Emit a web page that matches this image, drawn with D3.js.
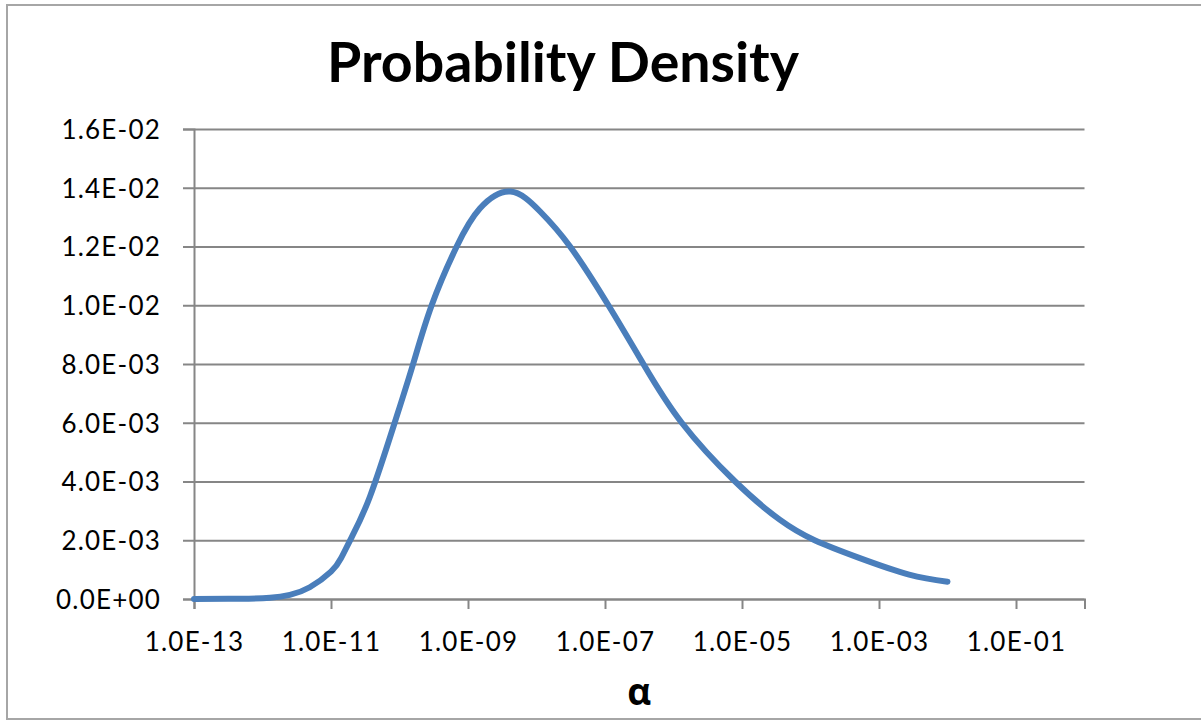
<!DOCTYPE html>
<html>
<head>
<meta charset="utf-8">
<script src="https://cdn.jsdelivr.net/npm/d3@7"></script>
<style>
  body { margin: 0; background: #fff; }
  svg text { font-family: Lato, "Open Sans", sans-serif; fill: #000; }
</style>
</head>
<body>
<svg></svg>
<script>
// alpha values (x) and probability density (y)
var alpha = [1e-13, 3.16e-13, 6.3e-13, 1.29e-12, 2.51e-12, 4.9e-12, 1e-11, 1.41e-11,
             2.0e-11, 3.72e-11, 8.5e-11, 1.58e-10, 2.95e-10, 6.84e-10, 1.5e-9, 4.17e-9,
             1.12e-8, 3.09e-8, 1.12e-7, 3.63e-7, 1.32e-6, 7.94e-6, 3.55e-5, 1.15e-4,
             5.13e-4, 2.75e-3, 1e-2];
var density = [0, 0.000005, 0.00001, 0.00004, 0.00014, 0.0004, 0.00093, 0.0014,
               0.0021, 0.0035, 0.006, 0.008, 0.010, 0.012, 0.0133, 0.01387,
               0.0132, 0.012, 0.010, 0.008, 0.006, 0.004, 0.0027, 0.002,
               0.00140, 0.00083, 0.00059];

var xTicks = [1e-13, 1e-11, 1e-9, 1e-7, 1e-5, 1e-3, 1e-1];
var yTicks = [0, 0.002, 0.004, 0.006, 0.008, 0.010, 0.012, 0.014, 0.016];

var width = 1201;
var height = 723;
var svg = d3.select("svg")
            .attr("width", width)
            .attr("height", height);

var plot = { left: 194, right: 1084.5, top: 129, bottom: 599 };

// chart border (right edge runs off the picture)
svg.append("rect")
   .attr("x", 7)
   .attr("y", 5)
   .attr("width", 1210)
   .attr("height", 714)
   .attr("fill", "none")
   .attr("stroke", "#a6a6a6")
   .attr("stroke-width", 2);

var xScale = d3.scaleLog()
               .domain([1e-13, 1])
               .range([plot.left, plot.right]);

var yScale = d3.scaleLinear()
               .domain([0, 0.016])
               .range([plot.bottom, plot.top]);

// Excel style scientific labels: 1.6E-02
function sci(v) {
  if (v === 0) return "0.0E+00";
  var p = v.toExponential(1).split("e");
  var e = +p[1];
  return p[0] + "E" + (e < 0 ? "-" : "+") + String(Math.abs(e)).padStart(2, "0");
}

// gridlines
svg.append("g")
   .attr("transform", "translate(" + plot.left + ",0)")
   .call(d3.axisLeft(yScale).tickValues(yTicks).tickSize(-(plot.right - plot.left)).tickFormat(""))
   .call(g => g.select(".domain").remove())
   .call(g => g.selectAll("line").attr("stroke", "#868686").attr("stroke-width", 2));

// y axis
svg.append("g")
   .attr("transform", "translate(" + plot.left + ",0)")
   .call(d3.axisLeft(yScale).tickValues(yTicks).tickSize(11).tickPadding(22).tickFormat(sci))
   .call(g => g.select(".domain").attr("stroke", "#868686").attr("stroke-width", 2))
   .call(g => g.selectAll("line").attr("stroke", "#868686").attr("stroke-width", 2))
   .call(g => g.selectAll("text").style("font-size", "26px").style("letter-spacing", "1.2px").attr("dy", "0.36em"));

// x axis
svg.append("g")
   .attr("transform", "translate(0," + plot.bottom + ")")
   .call(d3.axisBottom(xScale).tickValues(xTicks).tickSize(10).tickPadding(24).tickFormat(sci))
   .call(g => g.select(".domain").attr("stroke", "#868686").attr("stroke-width", 2))
   .call(g => g.selectAll("line").attr("stroke", "#868686").attr("stroke-width", 2))
   .call(g => g.selectAll("text").style("font-size", "26px").style("letter-spacing", "1.2px"));

// curve
var pts = alpha.map((a, i) => [a, density[i]]);
var line = d3.line()
             .x(d => xScale(d[0]))
             .y(d => yScale(d[1]))
             .curve(d3.curveNatural);

svg.append("path")
   .datum(pts)
   .attr("d", line)
   .attr("fill", "none")
   .attr("stroke", "#4a7ebb")
   .attr("stroke-width", 6)
   .attr("stroke-linecap", "round")
   .attr("stroke-linejoin", "round");

// title
svg.append("text")
   .attr("x", 563)
   .attr("y", 82)
   .attr("text-anchor", "middle")
   .style("font-size", "55.5px")
   .style("font-weight", "bold")
   .text("Probability Density");

// axis title
svg.append("text")
   .attr("x", (plot.left + plot.right) / 2)
   .attr("y", 705)
   .attr("text-anchor", "middle")
   .style("font-family", "'Open Sans', sans-serif")
   .style("font-size", "37px")
   .style("font-weight", "bold")
   .text("α");
</script>
</body>
</html>
